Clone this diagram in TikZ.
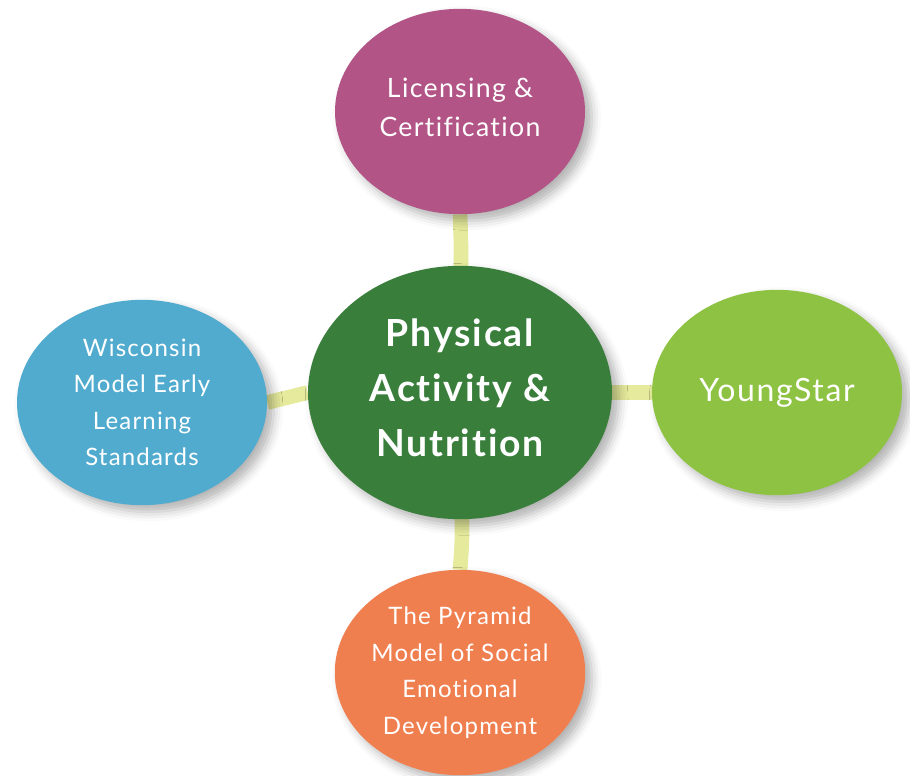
\documentclass[tikz,border=0pt]{standalone}
\usepackage{fontspec}
\setmainfont{Lato}[Ligatures=NoCommon, LetterSpace=5]
\usetikzlibrary{calc,positioning,shapes.geometric,shadows.blur}
\pgfdeclarelayer{back}
\pgfsetlayers{back,main}
\definecolor{hubgreen}{HTML}{3A7E3C}
\definecolor{licmagenta}{HTML}{B25486}
\definecolor{stdblue}{HTML}{50ABCF}
\definecolor{starlime}{HTML}{8DC243}
\definecolor{pyrorange}{HTML}{F07F4F}
\definecolor{linkyellow}{HTML}{E5EA9C}
\tikzset{
  topic/.style={
    ellipse,
    fill=#1,
    text=white,
    inner sep=0pt,
    align=center,
    minimum width=187.5pt,
    minimum height=154pt,
    blur shadow={shadow xshift=5pt, shadow yshift=-5pt, shadow blur radius=7pt, shadow opacity=30}
  },
  link/.style={line width=11pt, draw=linkyellow}
}

\begin{document}
\begin{tikzpicture}[x=0.75pt,y=-0.75pt]

  \useasboundingbox (0,0) rectangle (910,775);

  \node [topic=hubgreen, minimum width=228pt, minimum height=190pt,
         font=\fontsize{28pt}{41.25pt}\selectfont\bfseries] at(460,392.5) (hub) {Physical\\Activity \&\\Nutrition\\[-33.75pt]\mbox{}};

  \node [topic=licmagenta, font=\fontsize{20pt}{29.25pt}\selectfont] at($(hub)+(0,-281)$) (licensing) {Licensing \&\\Certification\\[-23.25pt]\mbox{}};
  \node [topic=stdblue, font=\fontsize{18pt}{27.4pt}\selectfont] at($(hub)+(-318,10)$) (standards) {Wisconsin\\Model Early\\Learning\\Standards};
  \node [topic=starlime, font=\fontsize{24pt}{30pt}\selectfont] at($(hub)+(317,0)$) (youngstar) {YoungStar};
  \node [topic=pyrorange, font=\fontsize{18pt}{27.4pt}\selectfont] at($(hub)+(0,280)$) (pyramid) {The Pyramid\\Model of Social\\Emotional\\Development};

  \begin{pgfonlayer}{back}
    \draw[link] (licensing.south) .. controls ($(licensing.south)+(1,25)$) .. ($(hub.north)+(1,2)$);
    \draw[link] (standards.east) -- (hub.west);
    \draw[link] (hub.east) -- (youngstar.west);
    \draw[link] ($(hub.south)+(2,-2)$) .. controls ($(pyramid.north)+(2,-25)$) .. (pyramid.north);
  \end{pgfonlayer}

\end{tikzpicture}
\end{document}
